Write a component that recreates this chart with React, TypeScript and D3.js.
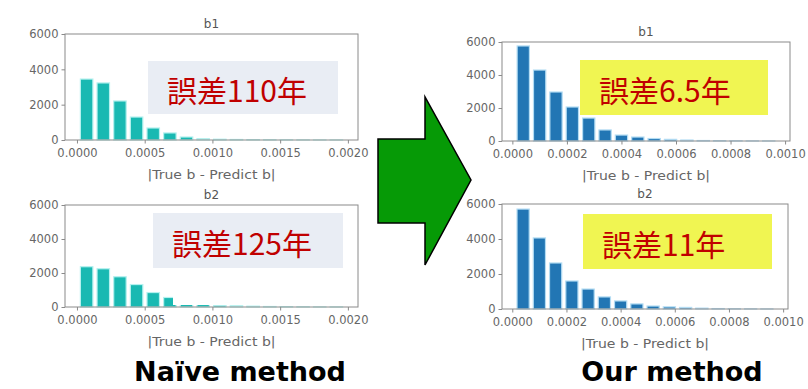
import { useEffect, useRef } from "react";
import * as d3 from "d3";

// histogram counts (16 bins each)
const naiveB1Counts = [3450, 3230, 2210, 1300, 680, 400, 170, 70, 45, 30, 20, 12, 8, 5, 3, 2];
const naiveB2Counts = [2370, 2250, 1780, 1320, 850, 560, 260, 150, 100, 70, 50, 30, 20, 10, 5, 3];
const oursB1Counts = [5760, 4300, 2970, 2060, 1390, 670, 360, 240, 150, 100, 60, 30, 15, 8, 4, 2];
const oursB2Counts = [5710, 4060, 2630, 1600, 1140, 690, 460, 290, 170, 120, 90, 50, 25, 12, 6, 3];

// bin layout: first edge and bin width
const naiveBinStart = 0.00001;
const naiveBinWidth = 0.0001229;
const oursBinStart = 0.00001;
const oursBinWidth = 0.00006;

const naiveXTicks = [0, 0.0005, 0.001, 0.0015, 0.002];
const oursXTicks = [0, 0.0002, 0.0004, 0.0006, 0.0008, 0.001];
const yTicks = [0, 2000, 4000, 6000];

const errorLabels = ["誤差110年", "誤差125年", "誤差6.5年", "誤差11年"];
const methodLabels = ["Naïve method", "Our method"];

export default function App() {
    const ref = useRef(null);

    useEffect(() => {
        const svg = d3.select(ref.current);
        svg.selectAll("*").remove();

        const panels = [
            { title: "b1", counts: naiveB1Counts, start: naiveBinStart, bw: naiveBinWidth, ticks: naiveXTicks, x0: 65, x1: 358, y0: 34, y1: 140, color: "#19b9b2", halo: "#b5f1ef", label: errorLabels[0], box: [148, 61, 190, 53], boxFill: "#e9edf4" },
            { title: "b2", counts: naiveB2Counts, start: naiveBinStart, bw: naiveBinWidth, ticks: naiveXTicks, x0: 65, x1: 358, y0: 205, y1: 307, color: "#19b9b2", halo: "#b5f1ef", label: errorLabels[1], box: [153, 213, 190, 55], boxFill: "#e9edf4" },
            { title: "b1", counts: oursB1Counts, start: oursBinStart, bw: oursBinWidth, ticks: oursXTicks, x0: 502, x1: 790, y0: 42, y1: 141, color: "#2276b4", halo: "#b3dcf3", label: errorLabels[2], box: [580, 60, 188, 55], boxFill: "#f0f552" },
            { title: "b2", counts: oursB2Counts, start: oursBinStart, bw: oursBinWidth, ticks: oursXTicks, x0: 502, x1: 788, y0: 204, y1: 309, color: "#2276b4", halo: "#b3dcf3", label: errorLabels[3], box: [583, 214, 189, 55], boxFill: "#f0f552" },
        ];

        panels.forEach((p, idx) => {
            const n = p.counts.length;
            const lo = p.start;
            const hi = p.start + n * p.bw;
            const pad = 0.05 * (hi - lo);
            const x = d3.scaleLinear().domain([lo - pad, hi + pad]).range([p.x0, p.x1]);
            const y = d3.scaleLinear().domain([0, 6000]).range([p.y1, p.y0]);
            const g = svg.append("g");

            // bars (rwidth ~0.75)
            g.selectAll("rect.bar")
                .data(p.counts)
                .join("rect")
                .attr("class", "bar")
                .attr("x", (d, i) => x(p.start + i * p.bw + p.bw * 0.125))
                .attr("width", (d, i) => x(p.start + (i + 0.875) * p.bw) - x(p.start + (i + 0.125) * p.bw))
                .attr("y", d => y(d))
                .attr("height", d => p.y1 - y(d))
                .attr("fill", p.color)
                .attr("stroke", p.halo)
                .attr("stroke-width", 1.2);

            // frame
            g.append("rect")
                .attr("x", p.x0).attr("y", p.y0)
                .attr("width", p.x1 - p.x0).attr("height", p.y1 - p.y0)
                .attr("fill", "none").attr("stroke", "#8a8a8a").attr("stroke-width", 1);

            const xAxis = g.append("g")
                .attr("transform", `translate(0,${p.y1})`)
                .call(d3.axisBottom(x).tickValues(p.ticks).tickFormat(d3.format(".4f")).tickSize(3.5).tickPadding(5));
            const yAxis = g.append("g")
                .attr("transform", `translate(${p.x0},0)`)
                .call(d3.axisLeft(y).tickValues(yTicks).tickFormat(d3.format("d")).tickSize(3.5).tickPadding(3));
            [xAxis, yAxis].forEach(a => {
                a.select(".domain").remove();
                a.selectAll("line").attr("stroke", "#8a8a8a");
                a.selectAll("text")
                    .attr("fill", "#666")
                    .style("font-family", "DejaVu Sans")
                    .style("font-size", "11.5px");
            });

            const cx = (p.x0 + p.x1) / 2;
            g.append("text")
                .attr("x", cx).attr("y", p.y0 - 6)
                .attr("text-anchor", "middle")
                .attr("fill", "#555")
                .style("font-family", "DejaVu Sans").style("font-size", "12px")
                .text(p.title);

            g.append("text")
                .attr("x", cx).attr("y", p.y1 + 39)
                .attr("text-anchor", "middle")
                .attr("fill", "#666")
                .attr("textLength", 128)
                .attr("lengthAdjust", "spacingAndGlyphs")
                .style("font-family", "DejaVu Sans").style("font-size", "11.5px")
                .text("|True b - Predict b|");

            // white patch over the lower-left plot, as in the source slide
            if (idx === 1) {
                g.append("rect").attr("x", 173).attr("y", 289).attr("width", 139).attr("height", 16).attr("fill", "#fff");
            }

            // error annotation box
            const [bx, by, bwid, bh] = p.box;
            g.append("rect").attr("x", bx).attr("y", by).attr("width", bwid).attr("height", bh).attr("fill", p.boxFill);
            g.append("text")
                .attr("x", bx + 19).attr("y", by + bh / 2 + 1)
                .attr("dominant-baseline", "central")
                .attr("fill", "#c00000")
                .style("font-family", "Noto Sans CJK JP").style("font-size", "30px")
                .text(p.label);
        });

        // arrow between the two methods
        const arrowPts = [[378, 139], [425, 139], [425, 97], [471, 180], [425, 265], [425, 223], [378, 223]];
        svg.append("path")
            .attr("d", d3.line()(arrowPts) + "Z")
            .attr("fill", "#069a06")
            .attr("stroke", "#000")
            .attr("stroke-width", 1.5);

        svg.append("text")
            .attr("x", 240).attr("y", 381)
            .attr("text-anchor", "middle")
            .style("font-family", "DejaVu Sans").style("font-weight", "bold").style("font-size", "27px")
            .text(methodLabels[0]);
        svg.append("text")
            .attr("x", 672).attr("y", 381)
            .attr("text-anchor", "middle")
            .style("font-family", "DejaVu Sans").style("font-weight", "bold").style("font-size", "27px")
            .text(methodLabels[1]);
    }, []);

    return (
        <svg ref={ref} width={808} height={389}
            style={{ position: "absolute", left: 0, top: 0, background: "#fff" }} />
    );
}
